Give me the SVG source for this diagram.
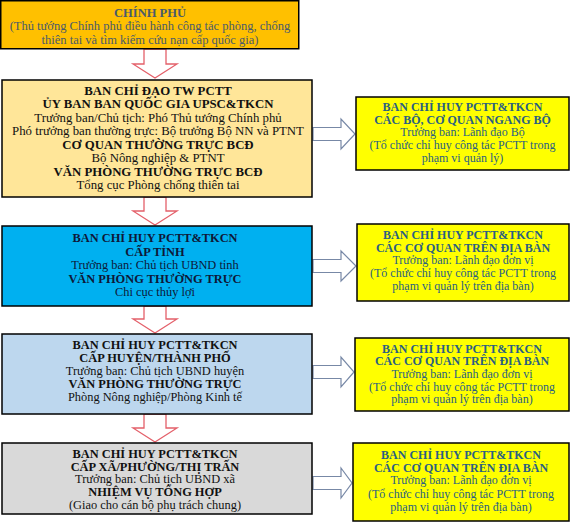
<svg xmlns="http://www.w3.org/2000/svg" width="571" height="527" viewBox="0 0 571 527">
<style>
text{font-family:"Liberation Serif","Times New Roman",serif;text-anchor:middle;}
.b{font-weight:bold;}
.box{stroke:#000;stroke-width:1.5;}
.dn{fill:#fff;stroke:#E4606A;stroke-width:1.3;}
.rt{fill:#fff;stroke:#7788A6;stroke-width:1.2;}
.gov text{fill:#4A5B6C;font-size:12.5px;}
.l2 text{fill:#111;font-size:12.8px;}
.l3 text{fill:#0E1838;font-size:12.4px;}
.l4 text{fill:#111;font-size:12.4px;}
.l5 text{fill:#111;font-size:12.4px;}
.r text{fill:#2A5F82;font-size:12px;}
</style>
<rect width="571" height="527" fill="#fff"/>
<g id="connectors">
<polygon class="dn" points="144,49 166,49 166,64 177,64 155,78 133,64 144,64"/>
<polygon class="dn" points="144,197 166,197 166,211 177,211 155,225 133,211 144,211"/>
<polygon class="dn" points="144,306 166,306 166,319 177,319 155,333 133,319 144,319"/>
<polygon class="dn" points="144,414 166,414 166,428 177,428 155,442 133,428 144,428"/>
<polygon class="rt" points="313,127.5 341,127.5 341,119 355,134 341,149 341,140.5 313,140.5"/>
<polygon class="rt" points="313,259.5 341,259.5 341,251 356,266 341,281 341,272.5 313,272.5"/>
<polygon class="rt" points="313,365.5 341,365.5 341,357 354,372 341,387 341,378.5 313,378.5"/>
<polygon class="rt" points="313,476.5 341,476.5 341,468 352,483 341,498 341,489.5 313,489.5"/>
</g>
<g id="chinh-phu" class="gov">
<rect class="box" x="0.75" y="0.75" width="298" height="48" fill="#FFC000"/>
<text class="b" x="150" y="16.5">CHÍNH PHỦ</text>
<text x="150" y="30">(Thủ tướng Chính phủ điều hành công tác phòng, chống</text>
<text x="150" y="43.5">thiên tai và tìm kiếm cứu nạn cấp quốc gia)</text>
</g>
<g id="ban-chi-dao-tw" class="l2">
<rect class="box" x="2" y="80" width="310" height="117" fill="#FFE699"/>
<text class="b" x="158" y="94.5">BAN CHỈ ĐẠO TW PCTT</text>
<text class="b" x="158" y="108">ỦY BAN BAN QUỐC GIA UPSC&amp;TKCN</text>
<text x="158" y="121.5">Trưởng ban/Chủ tịch: Phó Thủ tướng Chính phủ</text>
<text x="158" y="135">Phó trưởng ban thường trực: Bộ trưởng Bộ NN và PTNT</text>
<text class="b" x="158" y="148.5">CƠ QUAN THƯỜNG TRỰC BCĐ</text>
<text x="158" y="162">Bộ Nông nghiệp &amp; PTNT</text>
<text class="b" x="158" y="175.5">VĂN PHÒNG THƯỜNG TRỰC BCĐ</text>
<text x="158" y="189">Tổng cục Phòng chống thiên tai</text>
</g>
<g id="cap-tinh" class="l3">
<rect class="box" x="2" y="226" width="310" height="80" fill="#00B0F0"/>
<text class="b" x="155" y="241.5">BAN CHỈ HUY PCTT&amp;TKCN</text>
<text class="b" x="155" y="255.5">CẤP TỈNH</text>
<text x="155" y="268.5">Trưởng ban: Chủ tịch UBND tỉnh</text>
<text class="b" x="155" y="282.5">VĂN PHÒNG THƯỜNG TRỰC</text>
<text x="155" y="296">Chi cục thủy lợi</text>
</g>
<g id="cap-huyen" class="l4">
<rect class="box" x="2" y="334" width="310" height="80" fill="#BDD7EE"/>
<text class="b" x="155" y="349">BAN CHỈ HUY PCTT&amp;TKCN</text>
<text class="b" x="155" y="362">CẤP HUYỆN/THÀNH PHỐ</text>
<text x="155" y="375">Trưởng ban: Chủ tịch UBND huyện</text>
<text class="b" x="155" y="388">VĂN PHÒNG THƯỜNG TRỰC</text>
<text x="155" y="401">Phòng Nông nghiệp/Phòng Kinh tế</text>
</g>
<g id="cap-xa" class="l5">
<rect class="box" x="2" y="443" width="310" height="71" fill="#D9D9D9"/>
<text class="b" x="155" y="457.5">BAN CHỈ HUY PCTT&amp;TKCN</text>
<text class="b" x="155" y="470.5">CẤP XÃ/PHƯỜNG/THỊ TRẤN</text>
<text x="155" y="483">Trưởng ban: Chủ tịch UBND xã</text>
<text class="b" x="155" y="496">NHIỆM VỤ TỔNG HỢP</text>
<text x="155" y="509">(Giao cho cán bộ phụ trách chung)</text>
</g>
<g id="bo-nganh" class="r">
<rect class="box" x="356" y="97" width="213" height="73" fill="#FFFF00"/>
<text class="b" x="462.5" y="111">BAN CHỈ HUY PCTT&amp;TKCN</text>
<text class="b" x="462.5" y="123.5">CÁC BỘ, CƠ QUAN NGANG BỘ</text>
<text x="462.5" y="136">Trưởng ban: Lãnh đạo Bộ</text>
<text x="462.5" y="149">(Tổ chức chỉ huy công tác PCTT trong</text>
<text x="462.5" y="162">phạm vi quản lý)</text>
</g>
<g id="co-quan-tinh" class="r">
<rect class="box" x="357" y="224" width="212" height="77" fill="#FFFF00"/>
<text class="b" x="463" y="239">BAN CHỈ HUY PCTT&amp;TKCN</text>
<text class="b" x="463" y="251.5">CÁC CƠ QUAN TRÊN ĐỊA BÀN</text>
<text x="463" y="264">Trưởng ban: Lãnh đạo đơn vị</text>
<text x="463" y="277">(Tổ chức chỉ huy công tác PCTT trong</text>
<text x="463" y="290">phạm vi quản lý trên địa bàn)</text>
</g>
<g id="co-quan-huyen" class="r">
<rect class="box" x="355" y="338" width="214" height="73" fill="#FFFF00"/>
<text class="b" x="462" y="352.5">BAN CHỈ HUY PCTT&amp;TKCN</text>
<text class="b" x="462" y="365">CÁC CƠ QUAN TRÊN ĐỊA BÀN</text>
<text x="462" y="377.5">Trưởng ban: Lãnh đạo đơn vị</text>
<text x="462" y="390.5">(Tổ chức chỉ huy công tác PCTT trong</text>
<text x="462" y="403">phạm vi quản lý trên địa bàn)</text>
</g>
<g id="co-quan-xa" class="r">
<rect class="box" x="353" y="443" width="216" height="78" fill="#FFFF00"/>
<text class="b" x="461" y="459">BAN CHỈ HUY PCTT&amp;TKCN</text>
<text class="b" x="461" y="471.5">CÁC CƠ QUAN TRÊN ĐỊA BÀN</text>
<text x="461" y="484">Trưởng ban: Lãnh đạo đơn vị</text>
<text x="461" y="497.5">(Tổ chức chỉ huy công tác PCTT trong</text>
<text x="461" y="510.5">phạm vi quản lý trên địa bàn)</text>
</g>
</svg>
